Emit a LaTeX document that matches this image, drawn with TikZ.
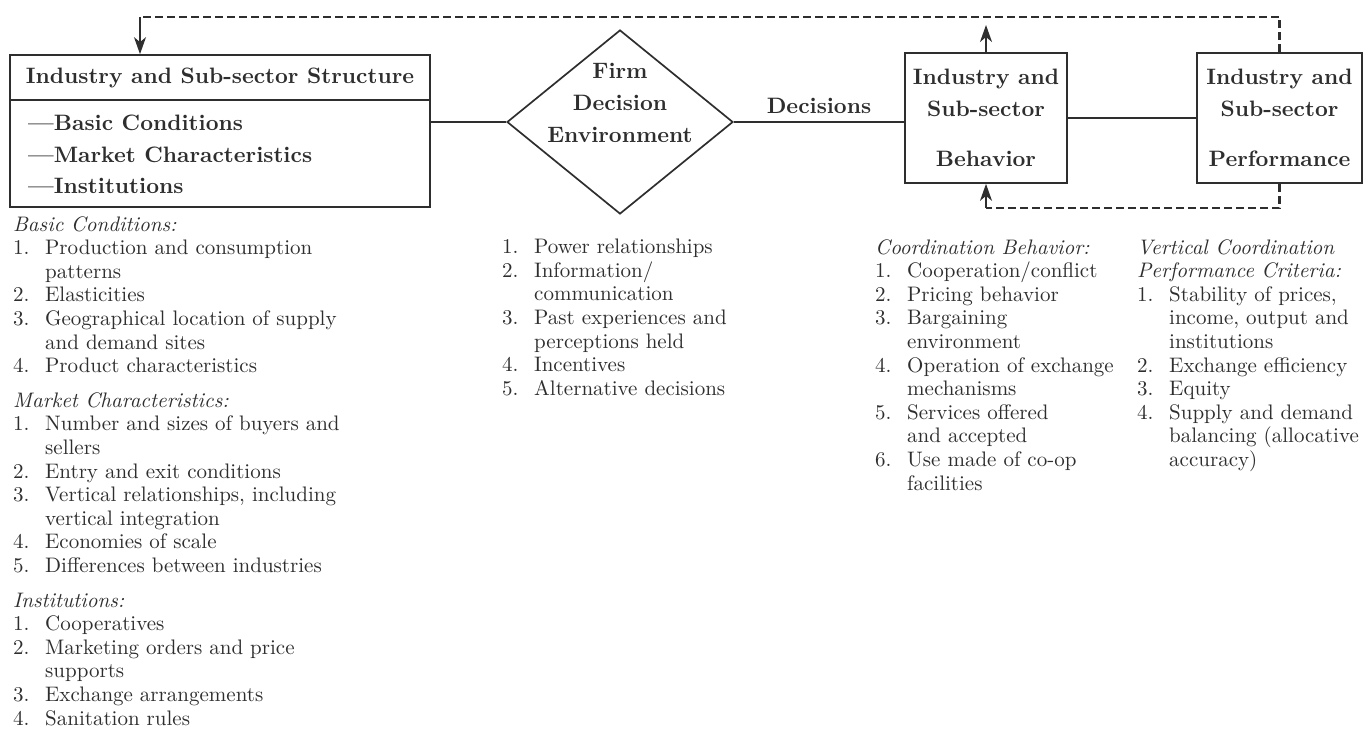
\documentclass[tikz,border=0pt]{standalone}
\usepackage{fontspec}
\setmainfont{lmroman10-regular.otf}[BoldFont=lmroman10-bold.otf, ItalicFont=lmroman10-italic.otf, BoldItalicFont=lmroman10-bolditalic.otf]
\usetikzlibrary{arrows.meta,shapes.geometric}
\definecolor{ink}{HTML}{2E2E2E}
\newcommand{\nitem}[2]{\makebox[32pt][l]{#1}#2}
\newcommand{\cont}[1]{\hspace*{32pt}#1}
\begin{document}
\begin{tikzpicture}[x=1pt,y=-1pt,
  every node/.style={text=ink},
  boxed/.style={draw=ink, line width=1.7pt, inner sep=0pt, align=center,
    font=\fontsize{22.3}{32}\selectfont\bfseries},
  bold/.style={inner sep=0pt, align=center, font=\fontsize{22.3}{32}\selectfont\bfseries},
  conn/.style={draw=ink, line width=1.7pt},
  fb/.style={draw=ink, line width=2.5pt, dash pattern=on 8pt off 4pt},
  tip/.style={-{Stealth[length=17pt,width=12pt,inset=5pt]}},
  listtxt/.style={anchor=north west, inner sep=0pt, align=left,
    font=\fontsize{21}{23.6}\selectfont},
]
\useasboundingbox (0,0) rectangle (1364,733);

% structure box
\node[boxed, minimum width=420, minimum height=45] (sh) at (220,77.5) {Industry and Sub-sector Structure};
\node[boxed, minimum width=420, minimum height=107] (sb) at (220,153.5) {};
\node[bold, anchor=north west, align=left, font=\fontsize{22.3}{31.5}\selectfont\bfseries] (sbt) at (28,115)
  {---Basic Conditions\\---Market Characteristics\\---Institutions};

% diamond
\node[diamond, draw=ink, line width=1.7pt, minimum width=226, minimum height=184, inner sep=0pt] (dia) at (620,122) {};
\node[bold] (dt) at (620,103) {Firm\\Decision\\Environment};

% behavior and performance
\node[boxed, minimum width=162, minimum height=130] (beh) at (986,118) {Industry and\\Sub-sector\\[18pt]Behavior};
\node[boxed, minimum width=165, minimum height=130] (perf) at (1279.5,118) {Industry and\\Sub-sector\\[18pt]Performance};

% connectors
\draw[conn] (dia.west -| sb.east) -- (dia.west);
\draw[conn] (dia.east) -- node[bold, above=8pt] (dec) {Decisions} (dia.east -| beh.west);
\draw[conn] (beh.east) -- (perf.west);

% feedback
\coordinate (tl) at (140,17);
\coordinate (bt) at (986,25);
\coordinate (bb) at (986,208);
\draw[fb] (perf.north) -- (perf.north |- tl) -- (tl);
\draw[conn,tip] (tl) -- (tl |- sh.north);
\draw[conn,tip] (beh.north) -- (bt);
\draw[fb] (perf.south) -- (perf.south |- bb) -- (bb);
\draw[conn,tip] (bb) -- (beh.south);

% lists
\node[listtxt] (l1) at (13,216) {%
\textit{Basic Conditions:}\\
\nitem{1.}{Production and consumption}\\
\cont{patterns}\\
\nitem{2.}{Elasticities}\\
\nitem{3.}{Geographical location of supply}\\
\cont{and demand sites}\\
\nitem{4.}{Product characteristics}\\[11pt]
\textit{Market Characteristics:}\\
\nitem{1.}{Number and sizes of buyers and}\\
\cont{sellers}\\
\nitem{2.}{Entry and exit conditions}\\
\nitem{3.}{Vertical relationships, including}\\
\cont{vertical integration}\\
\nitem{4.}{Economies of scale}\\
\nitem{5.}{Differences between industries}\\[11pt]
\textit{Institutions:}\\
\nitem{1.}{Cooperatives}\\
\nitem{2.}{Marketing orders and price}\\
\cont{supports}\\
\nitem{3.}{Exchange arrangements}\\
\nitem{4.}{Sanitation rules}};

\node[listtxt] (l2) at (502,239) {%
\nitem{1.}{Power relationships}\\
\nitem{2.}{Information/}\\
\cont{communication}\\
\nitem{3.}{Past experiences and}\\
\cont{perceptions held}\\
\nitem{4.}{Incentives}\\
\nitem{5.}{Alternative decisions}};

\node[listtxt] (l3) at (875,239) {%
\textit{Coordination Behavior:}\\
\nitem{1.}{Cooperation/conflict}\\
\nitem{2.}{Pricing behavior}\\
\nitem{3.}{Bargaining}\\
\cont{environment}\\
\nitem{4.}{Operation of exchange}\\
\cont{mechanisms}\\
\nitem{5.}{Services offered}\\
\cont{and accepted}\\
\nitem{6.}{Use made of co-op}\\
\cont{facilities}};

\node[listtxt] (l4) at (1137,239) {%
\textit{Vertical Coordination}\\
\textit{Performance Criteria:}\\
\nitem{1.}{Stability of prices,}\\
\cont{income, output and}\\
\cont{institutions}\\
\nitem{2.}{Exchange efficiency}\\
\nitem{3.}{Equity}\\
\nitem{4.}{Supply and demand}\\
\cont{balancing (allocative}\\
\cont{accuracy)}};
\end{tikzpicture}
\end{document}
